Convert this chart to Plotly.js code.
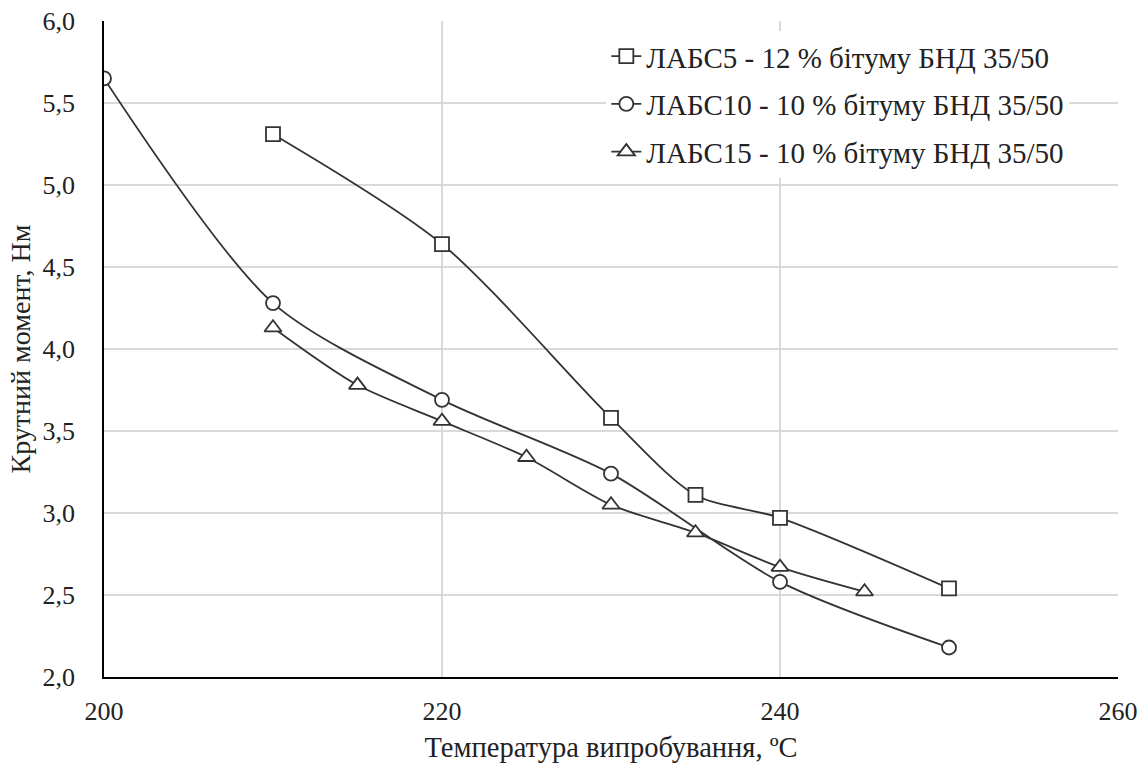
<!DOCTYPE html>
<html><head><meta charset="utf-8">
<script src="https://cdn.plot.ly/plotly-3.0.1.min.js"></script>
<style>body{margin:0;background:#fff}#c{width:1145px;height:765px}</style>
</head><body><div id="c"></div>
<script>
const names = ["ЛАБС5 - 12 % бітуму БНД 35/50","ЛАБС10 - 10 % бітуму БНД 35/50","ЛАБС15 - 10 % бітуму БНД 35/50"];
const x1 = [210,220,230,235,240,250];
const y1 = [5.31,4.64,3.58,3.11,2.97,2.54];
const x2 = [200,210,220,230,240,250];
const y2 = [5.65,4.28,3.69,3.24,2.58,2.18];
const x3 = [210,215,220,225,230,235,240,245];
const y3 = [4.13,3.78,3.56,3.34,3.05,2.88,2.67,2.52];
const symbols = ["square","circle","triangle-up"];
const sizes = [14,14,15];
const lc = "#333333";
const fam = "Liberation Serif";
function tr(x,y,i){return {x:x,y:y,name:names[i],legendgroup:"g"+i,type:"scatter",mode:"lines+markers",
 line:{color:lc,width:1.8,shape:"spline",smoothing:0.8},
 marker:{symbol:symbols[i],size:sizes[i],color:"#fff",line:{color:lc,width:1.8}}};}
const data=[tr(x1,y1,0),tr(x2,y2,1),tr(x3,y3,2)];
const layout={width:1145,height:765,paper_bgcolor:"#fff",plot_bgcolor:"#fff",
 separators:", ",
 font:{family:fam,color:"#222",size:26},
 margin:{l:104,r:27,t:21,b:88},
 xaxis:{range:[200,260],dtick:20,tick0:200,showgrid:true,gridcolor:"#d9d9d9",gridwidth:1.5,
  showline:true,linecolor:"#000",linewidth:1.8,zeroline:false,ticks:"",ticklabelstandoff:10,
  tickfont:{family:fam,size:26},title:{text:"Температура випробування, ºC",font:{family:fam,size:28.5},standoff:12}},
 yaxis:{range:[2,6],dtick:0.5,tickformat:".1f",showgrid:true,gridcolor:"#d9d9d9",gridwidth:1.5,
  showline:true,linecolor:"#000",linewidth:1.8,zeroline:false,ticks:"",ticklabelstandoff:22,
  tickfont:{family:fam,size:26},title:{text:"Крутний момент, Нм",font:{family:fam,size:28},standoff:4}},
 legend:{x:0.952,xanchor:"right",y:0.985,yanchor:"top",bgcolor:"#fff",font:{family:fam,size:29},
  tracegroupgap:7,itemwidth:30},
 showlegend:true};
Plotly.newPlot("c",data,layout,{displayModeBar:false});
</script></body></html>
